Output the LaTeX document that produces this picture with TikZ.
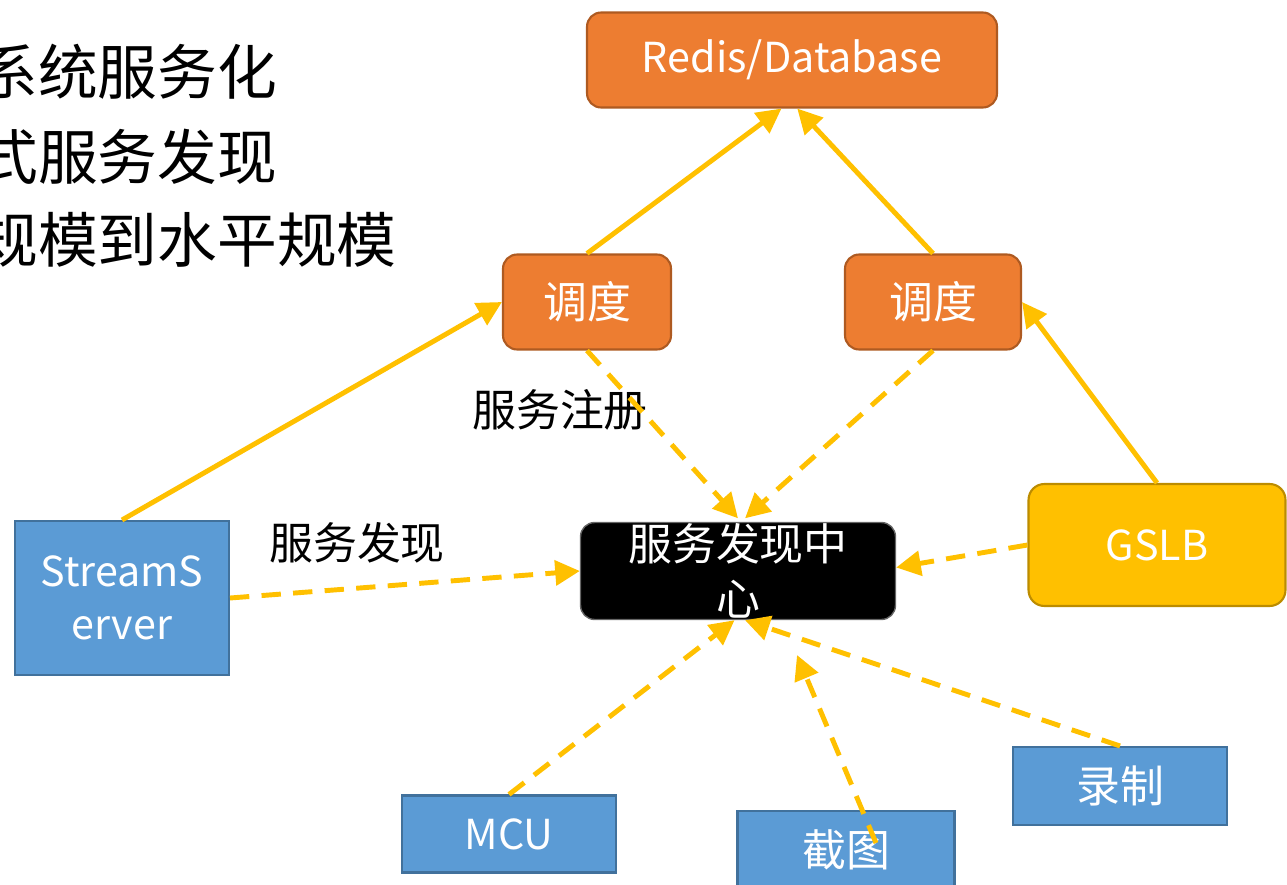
\documentclass[tikz,border=0pt]{standalone}
\usepackage{fontspec}
\setmainfont{Noto Sans CJK SC}
\usepackage{xcolor}
\usepackage{tikz}
\usetikzlibrary{arrows.meta}
\usetikzlibrary{calc}
\definecolor{box_orange}{HTML}{ED7D31}
\definecolor{line_orange}{HTML}{AE5A21}
\definecolor{box_blue}{HTML}{5B9BD5}
\definecolor{line_blue}{HTML}{41719C}
\definecolor{box_yellow}{HTML}{FFC000}
\definecolor{line_yellow}{HTML}{BC8C00}
\definecolor{link_yellow}{HTML}{FFC000}
\tikzset{
    tnode/.style = {align=center, inner sep=0pt, text centered, font=\fontsize{25}{31}\selectfont},
    latin/.style = {font=\fontsize{23.5}{30}\selectfont},
    orange_node/.style = {tnode, rectangle, rounded corners=8pt, white, draw=line_orange, fill=box_orange, line width=1.2pt},
    blue_node/.style = {tnode, rectangle, white, draw=line_blue, fill=box_blue, line width=1.2pt},
    yellow_node/.style = {tnode, rectangle, rounded corners=9pt, white, draw=line_yellow, fill=box_yellow, line width=1.2pt},
    hub_node/.style = {tnode, rectangle, rounded corners=8pt, white, draw=black!60, fill=black, line width=0.8pt},
    label_node/.style = {tnode, black},
    title_node/.style = {anchor=west, inner sep=0pt, black, font=\fontsize{34}{40}\selectfont}
}
\tikzset{
    link/.style = {draw=link_yellow, line width=2.8pt, -{Triangle[length=14pt,width=14pt]}},
    solid_link/.style = {link},
    dash_link/.style = {link, dash pattern=on 11pt off 7pt}
}
\begin{document}
\begin{tikzpicture}[x=0.02cm, y=-0.02cm]
    \useasboundingbox (0,0) rectangle (1287,885);
    % title lines
    \node [title_node] (t1) at (-22,72) {系统服务化};
    \node [title_node] (t2) at (-22,157) {式服务发现};
    \node [title_node] (t3) at (-22,240) {规模到水平规模};
    % boxes
    \node [orange_node, latin, minimum width=8.2cm, minimum height=1.9cm] (redis) at (792,60) {Redis/Database};
    \node [orange_node, minimum width=3.36cm, minimum height=1.9cm] (schedL) at (587,302) {调度};
    \node [orange_node, minimum width=3.52cm, minimum height=1.9cm] (schedR) at (933,302) {调度};
    \node [hub_node, minimum width=6.3cm, minimum height=1.94cm] (hub) at (738,571) {服务发现中\\心};
    \node [blue_node, latin, minimum width=4.28cm, minimum height=3.08cm] (stream) at (122,598) {StreamS\\erver};
    \node [yellow_node, latin, minimum width=5.14cm, minimum height=2.44cm] (gslb) at (1157,545) {GSLB};
    \node [blue_node, latin, minimum width=4.28cm, minimum height=1.54cm] (mcu) at (509,834) {MCU};
    \node [blue_node, minimum width=4.34cm, minimum height=1.56cm] (snap) at (846,850) {截图};
    \node [blue_node, minimum width=4.28cm, minimum height=1.56cm] (record) at (1120,786) {录制};
    % labels
    \node [label_node] (reg) at (560,410) {服务注册};
    \node [label_node] (disc) at (357,543) {服务发现};
    % solid links
    \draw [solid_link] (schedL.north) -- ([xshift=-6pt]redis.south);
    \draw [solid_link] (schedR.north) -- ([xshift=3pt]redis.south);
    \draw [solid_link] (stream.north) -- (schedL.west);
    \draw [solid_link] (gslb.north) -- (schedR.east);
    % dashed links
    \draw [dash_link] (schedL.south) -- ([yshift=2pt]hub.north);
    \draw [dash_link] (schedR.south) -- ([xshift=4pt,yshift=2pt]hub.north);
    \draw [dash_link] (stream.east) -- (hub.west);
    \draw [dash_link] (gslb.west) -- ([yshift=2pt]hub.east);
    \draw [dash_link] (mcu.north) -- ([xshift=-2pt]hub.south);
    \draw [dash_link] (record.north) -- ([xshift=4pt]hub.south);
    \coordinate (snapTip) at (797,655);
    \draw [dash_link] ($(snap.center)+(30,-7)$) -- (snapTip);
\end{tikzpicture}
\end{document}
